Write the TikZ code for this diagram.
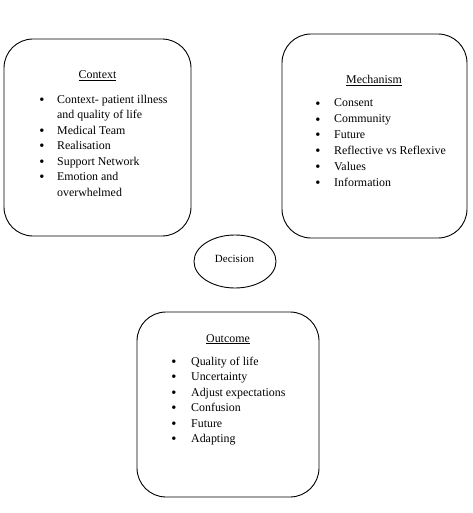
\documentclass[tikz,border=0pt]{standalone}
\usepackage{fontspec}
\setmainfont{Liberation Serif}
\usetikzlibrary{shapes.geometric}
\begin{document}
\begin{tikzpicture}[x=1pt,y=-1pt,
  panel/.style={draw=black, line width=0.9pt, rounded corners=29pt, inner sep=0pt},
  paneltitle/.style={anchor=base, inner sep=0pt, font=\fontsize{11.9}{14}\selectfont},
  bul/.style={anchor=base, inner sep=0pt, font=\fontsize{14.5}{16}\selectfont},
  itemtxt/.style={anchor=base west, inner sep=0pt, font=\fontsize{11.9}{14}\selectfont},
  decisionshape/.style={draw=black, line width=0.9pt, ellipse, inner sep=0pt}
]
\useasboundingbox (0,0) rectangle (472,513);
\fill[white] (0,0) rectangle (472,513);

% Boxes
\draw[panel] (4,39) rectangle (191,236);
\node[inner sep=0pt] (context) at (97.5,137.5) {};
\draw[panel] (282,34) rectangle (467,238);
\node[inner sep=0pt] (mechanism) at (374.5,136) {};
\draw[panel] (137,312) rectangle (319,497);
\node[inner sep=0pt] (outcome) at (228,404.5) {};

% Decision ellipse
\node[decisionshape, minimum width=82pt, minimum height=53pt] (decision) at (235,261.5) {};
\node[anchor=base, inner sep=0pt, font=\fontsize{11}{13}\selectfont] (decisiontxt) at (234.5,262) {Decision};

% Titles
\node[paneltitle] (ctxtitle) at (97.5,79) {\underline{Context}};
\node[paneltitle] (mectitle) at (374,84) {\underline{Mechanism}};
\node[paneltitle] (outtitle) at (228,342) {\underline{Outcome}};

% Context list
\foreach \k/\b/\t in {0/1/{Context- patient illness},1/0/{and quality of life},2/1/{Medical Team},3/1/{Realisation},4/1/{Support Network},5/1/{Emotion and},6/0/{overwhelmed}}{
  \node[itemtxt] (ctx-t\k) at (57,103.3+\k*15.45) {\t};
  \ifnum\b=1 \node[bul] (ctx-b\k) at (42,104.5+\k*15.45) {•};\fi
}

% Mechanism list
\foreach \k/\t in {0/Consent,1/Community,2/Future,3/{Reflective vs Reflexive},4/Values,5/Information}{
  \node[bul] (mec-b\k) at (318,108.2+\k*15.9) {•};
  \node[itemtxt] (mec-t\k) at (334,107+\k*15.9) {\t};
}

% Outcome list
\foreach \k/\t in {0/{Quality of life},1/Uncertainty,2/{Adjust expectations},3/Confusion,4/Future,5/Adapting}{
  \node[bul] (out-b\k) at (174,366.2+\k*15.5) {•};
  \node[itemtxt] (out-t\k) at (191,365+\k*15.5) {\t};
}
\end{tikzpicture}
\end{document}
